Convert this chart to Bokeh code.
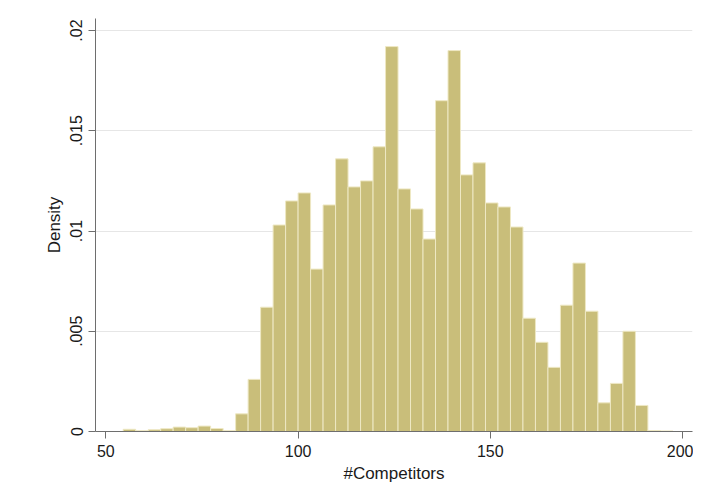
import numpy as np
from bokeh.plotting import figure
from bokeh.models import Range1d, FixedTicker, ColumnDataSource
from bokeh.embed import file_html
from bokeh.resources import INLINE

# Histogram of #Competitors (density), 44 bins
bin_start = 54.5
bin_width = 3.25
density = [
    0.00011, 0.00004, 0.00009, 0.00014, 0.00022, 0.00019, 0.00027, 0.00015,
    0.00004, 0.00088, 0.0026, 0.0062, 0.0103, 0.0115, 0.0119, 0.0081,
    0.0113, 0.0136, 0.0122, 0.0125, 0.0142, 0.0192, 0.0121, 0.0111,
    0.0096, 0.0165, 0.0190, 0.0128, 0.0134, 0.0114, 0.0112, 0.0102,
    0.00565, 0.00445, 0.0032, 0.0063, 0.0084, 0.0060, 0.00143, 0.0024,
    0.0050, 0.0013, 0.00005, 0.00003,
]
x_ticks = [50, 100, 150, 200]
y_ticks = [0, 0.005, 0.01, 0.015, 0.02]
y_tick_labels = ["0", ".005", ".01", ".015", ".02"]

n = len(density)
left = [bin_start + bin_width * i for i in range(n)]
right = [l + bin_width for l in left]
src = ColumnDataSource(dict(left=left, right=right, top=density, bottom=[0] * n))

FONT = "Liberation Sans"

p = figure(width=693, height=489, output_backend="svg", toolbar_location=None,
           x_range=Range1d(47.3, 202.6), y_range=Range1d(0, 0.0206),
           min_border_left=95, min_border_right=1, min_border_top=18,
           min_border_bottom=58)
p.outline_line_color = None
p.background_fill_color = "white"
p.border_fill_color = "white"

p.quad(left="left", right="right", top="top", bottom="bottom", source=src,
       fill_color="#C9BE7A", line_color="#EEE8C4", line_width=1)

p.xgrid.grid_line_color = None
p.ygrid.grid_line_color = "#E6E6E6"
p.ygrid.grid_line_width = 1

p.xaxis.ticker = FixedTicker(ticks=x_ticks)
p.yaxis.ticker = FixedTicker(ticks=y_ticks)
p.yaxis.major_label_overrides = {t: s for t, s in zip(y_ticks, y_tick_labels)}
p.yaxis.major_label_orientation = "vertical"

for ax in (p.xaxis[0], p.yaxis[0]):
    ax.axis_line_color = "#6E6E6E"
    ax.major_tick_line_color = "#6E6E6E"
    ax.major_tick_out = 7
    ax.major_tick_in = 0
    ax.minor_tick_line_color = None
    ax.major_label_text_font = FONT
    ax.major_label_text_font_size = "16px"
    ax.major_label_text_color = "#1a1a1a"
    ax.axis_label_text_font = FONT
    ax.axis_label_text_font_size = "17px"
    ax.axis_label_text_font_style = "normal"
    ax.axis_label_text_color = "#1a1a1a"
    ax.major_label_standoff = 6
    ax.axis_label_standoff = 4

p.xaxis.axis_label = "#Competitors"
p.yaxis.axis_label = "Density"

open("out.html", "w").write(file_html(p, INLINE))
